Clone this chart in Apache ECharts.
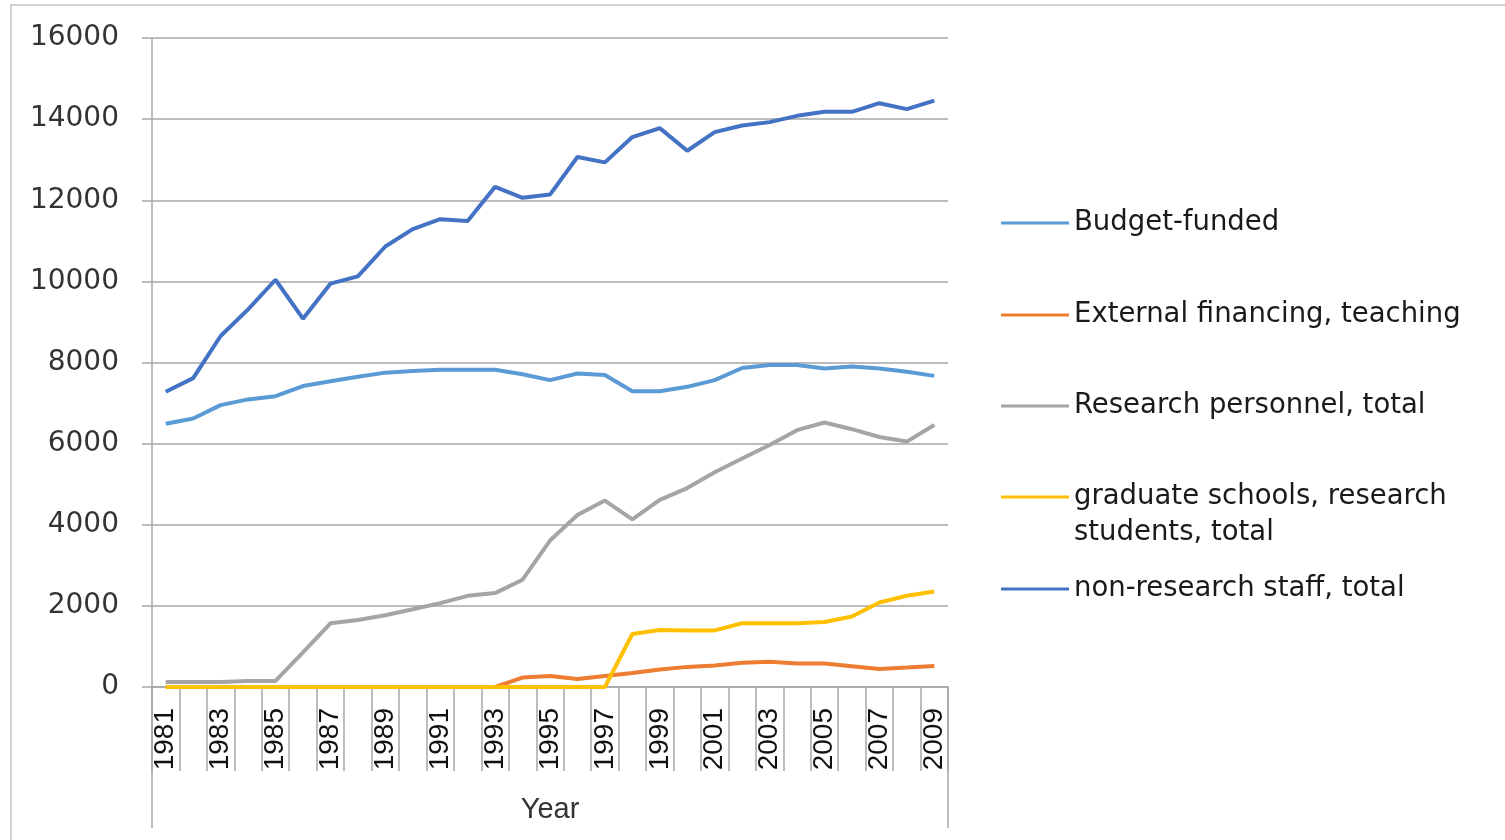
<!DOCTYPE html>
<html>
<head>
<meta charset="utf-8">
<script src="https://cdn.jsdelivr.net/npm/echarts@6/dist/echarts.min.js"></script>
<style>
html,body{margin:0;padding:0;background:#fff;}
#chart{width:1505px;height:840px;}
</style>
</head>
<body>
<div id="chart"></div>
<script>
// ---- data ----
const years = ['1981','1982','1983','1984','1985','1986','1987','1988','1989','1990',
  '1991','1992','1993','1994','1995','1996','1997','1998','1999','2000',
  '2001','2002','2003','2004','2005','2006','2007','2008','2009'];
const seriesNames = ['Budget-funded','External financing, teaching','Research personnel, total',
  'graduate schools, research students, total','non-research staff, total'];
const budgetFunded = [6490,6620,6950,7090,7170,7420,7540,7650,7750,7790,
  7820,7820,7820,7710,7565,7730,7690,7290,7290,7400,
  7565,7865,7940,7940,7850,7900,7850,7770,7670];
const externalTeaching = [0,0,0,0,0,0,0,0,0,0,
  0,0,0,233,273,198,273,347,431,496,
  530,595,620,580,580,513,446,481,520];
const researchPersonnel = [124,124,124,149,149,852,1571,1653,1769,1918,
  2067,2248,2315,2645,3610,4241,4597,4134,4614,4905,
  5294,5634,5965,6331,6522,6356,6164,6050,6457];
const graduateSchools = [0,0,0,0,0,0,0,0,0,0,
  0,0,0,0,0,0,0,1306,1405,1395,
  1395,1571,1571,1571,1603,1736,2083,2248,2355];
const nonResearchStaff = [7280,7614,8654,9310,10040,9081,9943,10123,10860,11287,
  11533,11490,12330,12060,12140,13066,12934,13558,13779,13221,
  13680,13843,13926,14081,14180,14180,14393,14246,14458];
const colors = ['#5B9BD5','#ED7D31','#A5A5A5','#FFC000','#4472C4'];
const seriesData = [budgetFunded, externalTeaching, researchPersonnel, graduateSchools, nonResearchStaff];

// ---- layout ----
const G = {left:152, right:557, top:38, bottom:153};
const W = 1505, H = 840;
const gridLine = '#a6a6a6';

const chart = echarts.init(document.getElementById('chart'), null, {renderer:'canvas'});

const legendTops = [208, 300, 391, 443, 574];
const legends = seriesNames.map((n, i) => ({
  data: [n],
  orient: 'vertical',
  left: 1001,
  top: legendTops[i],
  padding: 0,
  icon: 'rect',
  itemWidth: 68,
  itemHeight: 3,
  selectedMode: false,
  formatter: (name) => name === 'graduate schools, research students, total'
    ? '\ngraduate schools, research\nstudents, total' : name,
  textStyle: {
    fontFamily: 'DejaVu Sans', fontSize: 27.5, color: '#1a1a1a',
    lineHeight: i === 3 ? 36 : 30
  }
}));

const option = {
  animation: false,
  backgroundColor: '#fff',
  color: colors,
  grid: {left:G.left, right:G.right, top:G.top, bottom:G.bottom, containLabel:false},
  legend: legends,
  xAxis: {
    type: 'category',
    data: years,
    boundaryGap: true,
    name: 'Year',
    nameLocation: 'middle',
    nameGap: 108,
    nameTextStyle: {fontFamily:'Liberation Sans', fontSize:29, color:'#333'},
    axisLine: {show:true, lineStyle:{color:gridLine, width:1.5}},
    axisTick: {show:true, interval:0, length:84, alignWithLabel:false, lineStyle:{color:gridLine, width:1.5}},
    axisLabel: {interval:1, rotate:90, margin:21, fontFamily:'Liberation Sans', fontSize:28, color:'#111'},
    splitLine: {show:false}
  },
  yAxis: {
    type: 'value',
    min: 0, max: 16000, interval: 2000,
    axisLine: {show:true, lineStyle:{color:gridLine, width:1.5}},
    axisTick: {show:true, length:10, lineStyle:{color:gridLine, width:1.5}},
    axisLabel: {margin:33, fontFamily:'DejaVu Sans', fontSize:28, color:'#333',
      formatter: (v) => String(v)},
    splitLine: {show:true, lineStyle:{color:gridLine, width:1.5}}
  },
  series: seriesNames.map((n, i) => ({
    name: n,
    type: 'line',
    data: seriesData[i],
    symbol: 'none',
    showSymbol: false,
    lineStyle: {width: 4, color: colors[i]},
    itemStyle: {color: colors[i]}
  })),
  graphic: [
    {type:'rect', shape:{x:11, y:5, width:W+20, height:H+20}, style:{fill:'none', stroke:'#d0d0d0', lineWidth:2}, silent:true, z:-1},
    {type:'line', shape:{x1:G.left, y1:H-G.bottom, x2:G.left, y2:828}, style:{stroke:gridLine, lineWidth:1.5}, silent:true},
    {type:'line', shape:{x1:W-G.right, y1:H-G.bottom, x2:W-G.right, y2:828}, style:{stroke:gridLine, lineWidth:1.5}, silent:true}
  ]
};
chart.setOption(option);
</script>
</body>
</html>
